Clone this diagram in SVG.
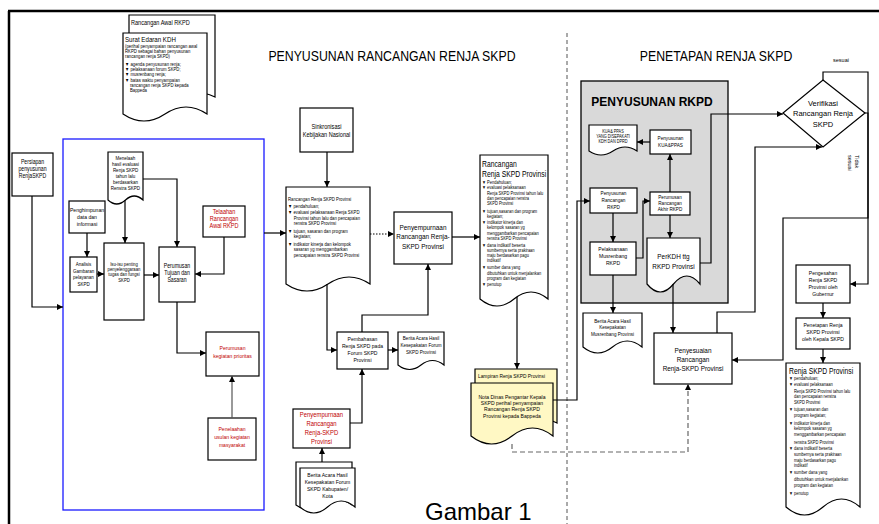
<svg xmlns="http://www.w3.org/2000/svg" width="879" height="524" viewBox="0 0 879 524">
<defs>
<style>
.b{fill:#fff;stroke:#000;stroke-width:1.2}
.g{fill:#d9d9d9;stroke:#000;stroke-width:1.3}
.y{fill:#fff8c4;stroke:#000;stroke-width:1.2}
.t{font-family:"Liberation Sans",Arial,sans-serif;fill:#000}
.c{text-anchor:middle}
.r{fill:#c00000}
.ln{fill:none;stroke:#000;stroke-width:1.2}
</style>
<marker id="a" viewBox="0 0 10 10" refX="10" refY="5" markerWidth="6" markerHeight="6" markerUnits="userSpaceOnUse" orient="auto"><path d="M0,0 L10,5 L0,10 z" fill="#000"/></marker>
</defs>
<rect width="879" height="524" fill="#fff"/>
<g id="frame"><path d="M8,11 H879 M9,11 V524" stroke="#000" stroke-width="2.5" fill="none"/>
<line x1="567" y1="33" x2="567" y2="524" stroke="#555" stroke-width="1" stroke-dasharray="4,3"/></g>
<g id="headers" class="t c">
<text transform="translate(392 61) scale(.82 1)" font-size="15">PENYUSUNAN RANCANGAN RENJA SKPD</text>
<text transform="translate(716 61) scale(.82 1)" font-size="15">PENETAPAN RENJA SKPD</text>
</g>
<g id="blue-box"><rect x="63" y="139" width="201" height="371" fill="none" stroke="#1a1aff" stroke-width="1.3"/></g>

<g id="gray-box"><rect class="g" x="581" y="81" width="147" height="222"/>
<text class="t c" x="652" y="106" font-size="12" font-weight="bold">PENYUSUNAN RKPD</text></g>

<g id="doc-rancangan-awal"><path class="b" d="M129,15 H215 V97 Q193.5,87 172,97 T129,97 Z"/>
<text class="t" transform="translate(131 25) scale(.82 1)" font-size="6.8">Rancangan Awal RKPD</text></g>
<g id="doc-surat-edaran"><path class="b" d="M123,33 H207 V114 Q186,100 165,114 T123,114 Z"/>
<g class="t" transform="translate(125 0) scale(.82 1)" font-size="5.2">
<text x="0" y="42" font-size="7.5">Surat Edaran KDH</text>
<text x="0" y="48">(perihal penyampaian rancangan awal</text>
<text x="0" y="53">RKPD sebagai bahan penyusunan</text>
<text x="0" y="58">rancangan renja SKPD)</text>
<text x="0" y="66">▼ agenda penyusunan renja;</text>
<text x="0" y="71">▼ pelaksanaan forum SKPD;</text>
<text x="0" y="76">▼ musrenbang renja;</text>
<text x="0" y="82">▼ batas waktu penyampaian</text>
<text x="6" y="87">rancangan renja SKPD kepada</text>
<text x="6" y="92">Bappeda</text>
</g></g>

<g id="persiapan"><rect class="b" x="12" y="153" width="41" height="43"/>
<g class="t c" transform="translate(32.5 0) scale(.82 1)" font-size="6.3"><text y="164">Persiapan</text><text y="171">penyusunan</text><text y="178">RenjaSKPD</text></g></g>

<g id="menelaah"><path class="b" d="M108,152 H143 V200 Q134.25,192 125.5,200 T108,200 Z"/>
<g class="t c" transform="translate(125.5 0) scale(.82 1)" font-size="5.5"><text y="160">Menelaah</text><text y="166">hasil evaluasi</text><text y="172">Renja SKPD</text><text y="178">tahun lalu</text><text y="184">berdasarkan</text><text y="190">Renstra SKPD</text></g></g>

<g id="penghimpunan"><rect class="b" x="69" y="201" width="36" height="32"/>
<g class="t c" transform="translate(87 0) scale(.82 1)" font-size="6.2"><text y="212">Penghimpunan</text><text y="219">data dan</text><text y="226">informasi</text></g></g>

<g id="analisis"><rect class="b" x="70" y="257" width="27" height="35"/>
<g class="t c" transform="translate(83.5 0) scale(.82 1)" font-size="5.5"><text y="266">Analisis</text><text y="273">Gambaran</text><text y="279">pelayanan</text><text y="286">SKPD</text></g></g>

<g id="isu"><rect class="b" x="104" y="243" width="40" height="77"/>
<g class="t c" transform="translate(124 0) scale(.82 1)" font-size="5.2"><text y="266">Isu-isu penting</text><text y="271">penyelenggaraan</text><text y="276">tugas dan fungsi</text><text y="282">SKPD</text></g></g>

<g id="perumusan-tujuan"><rect class="b" x="159" y="247" width="36" height="55"/>
<g class="t c" transform="translate(177 0) scale(.82 1)" font-size="6.3"><text y="268">Perumusan</text><text y="275">Tujuan dan</text><text y="282">Sasaran</text></g></g>

<g id="telaahan"><rect class="b" x="203" y="206" width="42" height="31"/>
<g class="t c r" transform="translate(224 0) scale(.82 1)" font-size="6.8"><text y="214">Telaahan</text><text y="221">Rancangan</text><text y="228">Awal RKPD</text></g></g>

<g id="perumusan-kegiatan"><rect class="b" x="206" y="332" width="53" height="44"/>
<g class="t c r" transform="translate(232.5 0) scale(.82 1)" font-size="6.2"><text y="350">Perumusan</text><text y="358">kegiatan prioritas</text></g></g>

<g id="penelaahan-usulan"><rect class="b" x="208" y="418" width="48" height="42"/>
<g class="t c r" transform="translate(232 0) scale(.82 1)" font-size="6.2"><text y="431">Penelaahan</text><text y="439">usulan kegiatan</text><text y="447">masyarakat</text></g></g>

<g id="sinkronisasi"><rect class="b" x="300" y="108" width="53" height="44"/>
<g class="t c" transform="translate(326.5 0) scale(.82 1)" font-size="6.8"><text y="129">Sinkronisasi</text><text y="137">Kebijakan Nasional</text></g></g>

<g id="doc-rancangan-renja-1"><path class="b" d="M286,187 H370 V284 Q349,270 328,284 T286,284 Z"/>
<g class="t" transform="translate(288 0) scale(.82 1)" font-size="5.2">
<text x="0" y="201">Rancangan Renja SKPD Provinsi</text>
<text x="0" y="208">▼ pendahuluan;</text>
<text x="0" y="214">▼ evaluasi pelaksanaan Renja SKPD</text>
<text x="7" y="220">Provinsi tahun lalu dan pencapaian</text>
<text x="7" y="225">renstra SKPD Provinsi</text>
<text x="0" y="233">▼ tujuan, sasaran dan program</text>
<text x="7" y="238">kegiatan;</text>
<text x="0" y="246">▼ indikator kinerja dan kelompok</text>
<text x="7" y="251">sasaran yg menggambarkan</text>
<text x="7" y="257">pencapaian renstra SKPD Provinsi</text>
</g></g>

<g id="penyempurnaan-1"><rect class="b" x="394" y="212" width="58" height="52"/>
<g class="t c" transform="translate(423 0) scale(.82 1)" font-size="7.8"><text y="230">Penyempurnaan</text><text y="239">Rancangan Renja-</text><text y="249">SKPD Provinsi</text></g></g>

<g id="pembahasan"><rect class="b" x="337" y="332" width="51" height="37"/>
<g class="t c" transform="translate(362.5 0) scale(.82 1)" font-size="6.2"><text y="341">Pembahasan</text><text y="348">Renja SKPD pada</text><text y="355">Forum SKPD</text><text y="362">Provinsi</text></g></g>

<g id="ba-forum-provinsi"><path class="b" d="M398,332 H444 V365 Q432.5,356 421,365 T398,365 Z"/>
<g class="t c" transform="translate(421 0) scale(.82 1)" font-size="5.6"><text y="340">Berita Acara Hasil</text><text y="347">Kesepakatan Forum</text><text y="354">SKPD Provinsi</text></g></g>

<g id="penyempurnaan-2"><rect class="b" x="293" y="409" width="57" height="39"/>
<g class="t c r" transform="translate(321.5 0) scale(.82 1)" font-size="7.2"><text y="417">Penyempurnaan</text><text y="426">Rancangan</text><text y="435">Renja-SKPD</text><text y="444">Provinsi</text></g></g>

<g id="ba-forum-kabkota"><path class="b" d="M296,462 H352 V505 Q338,495 324,505 T296,505 Z"/>
<path class="b" d="M300,468 H355 V507 Q341.25,495 327.5,507 T300,507 Z"/>
<g class="t c" transform="translate(327.5 0) scale(.82 1)" font-size="6.2"><text y="477">Berita Acara Hasil</text><text y="484">Kesepakatan Forum</text><text y="491">SKPD Kabupaten/</text><text y="498">Kota</text></g></g>

<g id="doc-rancangan-renja-2"><path class="b" d="M480,155 H548 V299 Q531,285 514,299 T480,299 Z"/>
<g class="t" transform="translate(482 0) scale(.82 1)" font-size="4.9">
<text x="0" y="167" font-size="8.3">Rancangan</text>
<text x="0" y="177" font-size="8.3">Renja SKPD Provinsi</text>
<text x="0" y="184">▼ Pendahuluan;</text>
<text x="0" y="189">▼ evaluasi pelaksanaan</text>
<text x="6" y="195">Renja SKPD Provinsi tahun lalu</text>
<text x="6" y="200">dan pencapaian   renstra</text>
<text x="6" y="205">SKPD Provinsi</text>
<text x="0" y="213">▼ tujuan,sasaran dan program</text>
<text x="6" y="218">kegiatan;</text>
<text x="0" y="224">▼ indikator kinerja dan</text>
<text x="6" y="229">kelompok sasaran yg</text>
<text x="6" y="235">menggambarkan  pencapaian</text>
<text x="6" y="240">renstra SKPD Provinsi</text>
<text x="0" y="247">▼ dana indikatif beserta</text>
<text x="6" y="252">sumbernya serta  prakiraan</text>
<text x="6" y="257">maju  berdasarkan pagu</text>
<text x="6" y="262">indikatif</text>
<text x="0" y="269">▼ sumber dana yang</text>
<text x="6" y="275">dibutuhkan untuk  menjalankan</text>
<text x="6" y="280">program dan kegiatan</text>
<text x="0" y="286">▼ penutup</text>
</g></g>

<g id="doc-lampiran"><path class="y" d="M475,369 H557 V423 Q536.5,413 516,423 T475,423 Z"/>
<text class="t" transform="translate(478 378) scale(.82 1)" font-size="5.9">Lampiran Renja SKPD Provinsi</text>
<path class="y" d="M471,383 H553 V436 Q532.5,420 512,436 T471,436 Z"/>
<g class="t c" transform="translate(512 0) scale(.82 1)" font-size="6.2"><text y="399">Nota Dinas Pengantar Kepala</text><text y="405">SKPD perihal penyampaian</text><text y="411">Rancangan Renja SKPD</text><text y="418">Provinsi kepada Bappeda</text></g></g>

<g id="ba-musrenbang"><path class="b" d="M583,313 H642 V347 Q627.25,335 612.5,347 T583,347 Z"/>
<g class="t c" transform="translate(612.5 0) scale(.82 1)" font-size="5.6"><text y="323">Berita Acara Hasil</text><text y="329">Kesepakatan</text><text y="336">Musrenbang Provinsi</text></g></g>

<g id="doc-kua"><path class="b" d="M589,125 H637 V151 Q625,143 613,151 T589,151 Z"/>
<g class="t c" transform="translate(613 0) scale(.82 1)" font-size="4.7"><text y="133">KUA&amp; PPAS</text><text y="138">YANG DISEPAKATI</text><text y="143">KDH DAN DPRD</text></g></g>

<g id="penyusunan-kua"><rect class="b" x="650" y="130" width="41" height="24"/>
<g class="t c" transform="translate(670.5 0) scale(.82 1)" font-size="5.7"><text y="140">Penyusunan</text><text y="147">KUA&amp;PPAS</text></g></g>

<g id="penyusunan-rkpd"><rect class="b" x="590" y="188" width="47" height="25"/>
<g class="t c" transform="translate(613.5 0) scale(.82 1)" font-size="5.7"><text y="195">Penyusunan</text><text y="202">Rancangan</text><text y="209">RKPD</text></g></g>

<g id="perumusan-akhir"><rect class="b" x="650" y="192" width="40" height="23"/>
<g class="t c" transform="translate(670 0) scale(.82 1)" font-size="5.6"><text y="199">Perumusan</text><text y="205">Rancangan</text><text y="211">Akhir RKPD</text></g></g>

<g id="pelaksanaan-musrenbang"><rect class="b" x="590" y="242" width="46" height="33"/>
<g class="t c" transform="translate(613 0) scale(.82 1)" font-size="6.2"><text y="251">Pelaksanaan</text><text y="258">Musrenbang</text><text y="265">RKPD</text></g></g>

<g id="doc-perkdh"><path class="b" d="M647,238 H700 V284 Q686.75,268 673.5,284 T647,284 Z"/>
<g class="t c" transform="translate(673.5 0) scale(.82 1)" font-size="7.8"><text y="259">PerKDH ttg</text><text y="269">RKPD Provinsi</text></g></g>

<g id="penyesuaian"><rect class="b" x="654" y="333" width="78" height="51"/>
<g class="t c" transform="translate(693 0) scale(.82 1)" font-size="7.8"><text y="353">Penyesuaian</text><text y="362">Rancangan</text><text y="371">Renja-SKPD Provinsi</text></g></g>

<g id="verifikasi"><path class="b" d="M823,80 L865,113 L823,147 L783,113 Z"/>
<g class="t c" font-size="7.5"><text x="823" y="106">Verifikasi</text><text x="823" y="116">Rancangan Renja</text><text x="823" y="127">SKPD</text></g></g>

<g id="pengesahan"><rect class="b" x="796" y="265" width="54" height="38"/>
<g class="t c" transform="translate(823 0) scale(.82 1)" font-size="6.2"><text y="275">Pengesahan</text><text y="282">Renja SKPD</text><text y="289">Provinsi oleh</text><text y="296">Gubernur</text></g></g>

<g id="penetapan"><rect class="b" x="796" y="318" width="54" height="31"/>
<g class="t c" transform="translate(823 0) scale(.82 1)" font-size="6.2"><text y="327">Penetapan Renja</text><text y="334">SKPD Provinsi</text><text y="341">oleh Kepala SKPD</text></g></g>

<g id="doc-renja-final"><path class="b" d="M786,363 H860 V507 Q841.5,491 823,507 T786,507 Z"/>
<g class="t" transform="translate(789 0) scale(.82 1)" font-size="4.9">
<text x="0" y="374" font-size="8.3">Renja SKPD Provinsi</text>
<text x="0" y="380">▼ pendahuluan;</text>
<text x="0" y="386">▼ evaluasi pelaksanaan</text>
<text x="6" y="393">Renja SKPD Provinsi tahun lalu</text>
<text x="6" y="398">dan pencapaian   renstra</text>
<text x="6" y="404">SKPD Provinsi</text>
<text x="0" y="411">▼ tujuan,sasaran dan</text>
<text x="6" y="417">program kegiatan;</text>
<text x="0" y="425">▼ indikator kinerja dan</text>
<text x="6" y="430">kelompok sasaran yg</text>
<text x="6" y="436">menggambarkan pencapaian</text>
<text x="6" y="444">renstra SKPD Provinsi</text>
<text x="0" y="450">▼ dana indikatif beserta</text>
<text x="6" y="456">sumbernya serta  prakiraan</text>
<text x="6" y="462">maju berdasarkan pagu</text>
<text x="6" y="467">indikatif</text>
<text x="0" y="474">▼ sumber dana yang</text>
<text x="6" y="481">dibutuhkan untuk  menjalankan</text>
<text x="6" y="487">program dan kegiatan</text>
<text x="0" y="495">▼ penutup</text>
</g></g>

<g id="connectors" class="ln" marker-end="url(#a)">
<path d="M32,196 V307 H63"/>
<path d="M87,233 V257"/>
<path d="M97,274 H104"/>
<path d="M125,200 V243"/>
<path d="M143,179 H177 V247"/>
<path d="M144,275 H159"/>
<path d="M224,237 V274 H195"/>
<path d="M177,302 V353 H206"/>
<path d="M232,418 V376" stroke="#555"/>
<path d="M264,233 H286"/>
<path d="M327,152 V187"/>
<path d="M370,234 H394" stroke-dasharray="1.5,1.5"/>
<path d="M327,284 V350 H337"/>
<path d="M362,332 V315 H428 V264"/>
<path d="M388,350 H398"/>
<path d="M350,423 H362 V369"/>
<path d="M322,462 V448"/>
<path d="M452,237 H480"/>
<path d="M517,297 V369"/>
<path d="M553,400 H577 V201 H590"/>
<path d="M512,444 V452 H688 V384" stroke="#666" stroke-dasharray="5,3"/>
<path d="M613,213 V242"/>
<path d="M636,258 H643 V201 H650"/>
<path d="M670,192 V154"/>
<path d="M650,142 H637"/>
<path d="M670,215 V238"/>
<path d="M613,275 V313"/>
<path d="M700,263 H711 V114 H783"/>
<path d="M673,284 V333"/>
<path d="M717,333 V312 H755 V147 H822"/>
<path d="M823,80 V72 H868 V284 H850"/>
<path d="M865,113 H868 V218 H783 V360 H732"/>
<path d="M823,303 V318"/>
<path d="M823,349 V363"/>
</g>
<g id="connector-labels" class="t" font-size="5.5">
<text x="841" y="62" class="c">sesuai</text>
<text transform="translate(855 155) rotate(90)">Tidak</text>
<text transform="translate(848 155) rotate(90)">sesuai</text>
</g>
<g id="caption"><text class="t" x="425" y="520" font-size="24">Gambar 1</text></g>
</svg>
